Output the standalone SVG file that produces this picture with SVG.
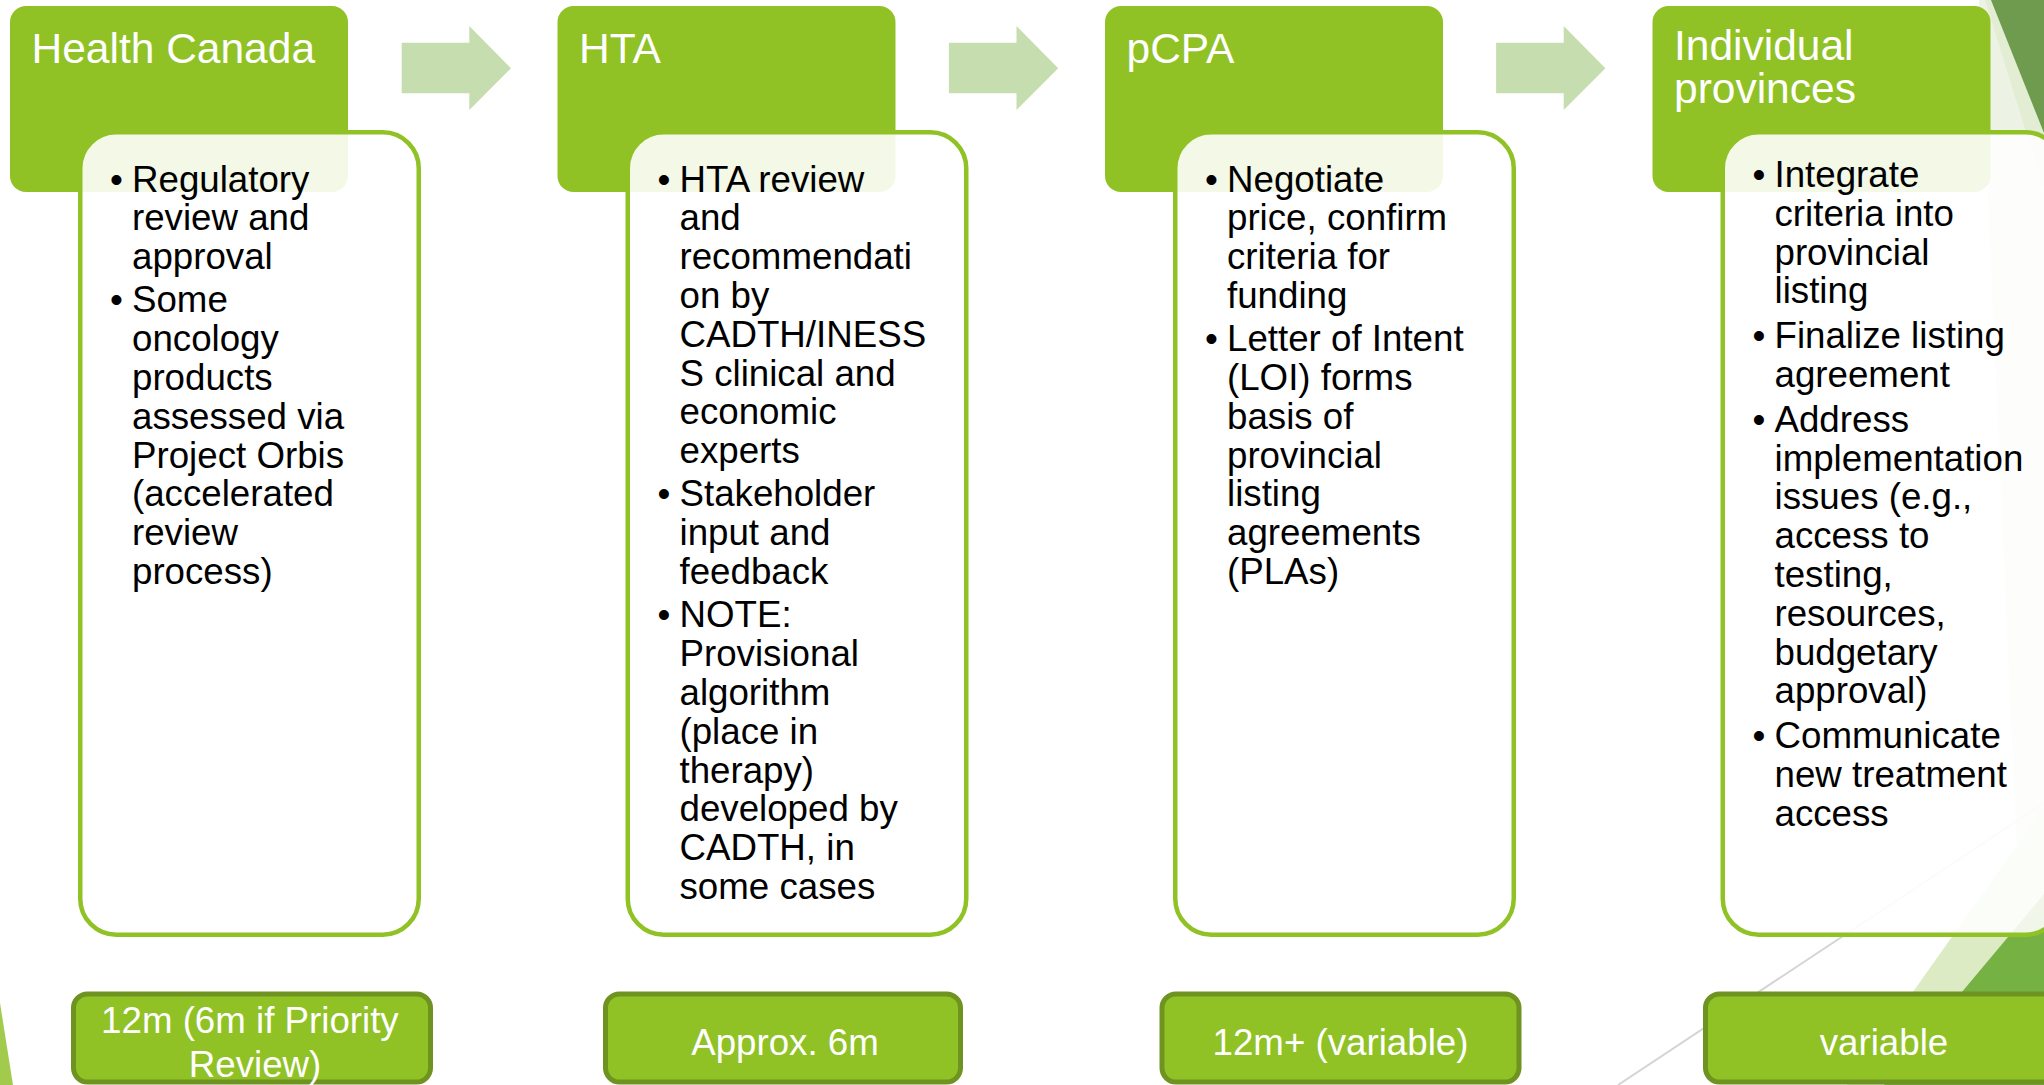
<svg xmlns="http://www.w3.org/2000/svg" width="2044" height="1085" viewBox="0 0 2044 1085">
  <style>
    .hdr { fill: #90c226; }
    .hdr-t { font-family: "Liberation Sans", Arial, sans-serif; font-size: 42.5px; fill: #ffffff; }
    .panel { fill: #ffffff; fill-opacity: 0.89; stroke: #90c226; stroke-width: 4.5; }
    .txt { font-family: "Liberation Sans", Arial, sans-serif; font-size: 36.7px; fill: #000000; }
    .arrow { fill: #c6deaf; }
    .dur { fill: #90c226; stroke: #6e9321; stroke-width: 5; }
    .dur-t { font-family: "Liberation Sans", Arial, sans-serif; font-size: 36.7px; fill: #ffffff; text-anchor: middle; }
  </style>

  <rect width="2044" height="1085" fill="#ffffff"/>

  <!-- theme facets along the edges -->
  <g id="decor">
    <polygon points="1979,0 2044,0 2044,1085 2027,1085" fill="#edf3e4"/>
    <polygon points="1985,0 2044,0 2044,190" fill="#e2edd3"/>
    <polygon points="1991,0 2044,0 2044,133" fill="#6f9b4f"/>
    <polygon points="1847,1085 2044,807 2044,1085" fill="#dcebc4"/>
    <polygon points="1884,1085 2044,894 2044,1085" fill="#76b144"/>
    <line x1="1618" y1="1085" x2="2044" y2="803" stroke="#d4d4d4" stroke-width="2"/>
    <polygon points="0,1003 13,1085 0,1085" fill="#a2cb4e"/>
  </g>

  <!-- stage 1 -->
  <g id="stage-health-canada">
    <rect class="hdr" x="10" y="6" width="338" height="186" rx="16"/>
    <text class="hdr-t" x="31.5" y="63">Health Canada</text>
    <rect class="panel" x="80.25" y="132.25" width="338.5" height="802.5" rx="36"/>
    <text class="txt" x="110" y="191.5">•</text>
    <text class="txt" x="110" y="312.4">•</text>
    <text class="txt">
      <tspan x="132" y="191.5">Regulatory</tspan>
      <tspan x="132" y="230.3">review and</tspan>
      <tspan x="132" y="269.1">approval</tspan>
      <tspan x="132" y="312.4">Some</tspan>
      <tspan x="132" y="351.2">oncology</tspan>
      <tspan x="132" y="390">products</tspan>
      <tspan x="132" y="428.8">assessed via</tspan>
      <tspan x="132" y="467.6">Project Orbis</tspan>
      <tspan x="132" y="506.4">(accelerated</tspan>
      <tspan x="132" y="545.2">review</tspan>
      <tspan x="132" y="584">process)</tspan>
    </text>
  </g>

  <!-- stage 2 -->
  <g id="stage-hta">
    <rect class="hdr" x="557.5" y="6" width="338" height="186" rx="16"/>
    <text class="hdr-t" x="579" y="63">HTA</text>
    <rect class="panel" x="627.75" y="132.25" width="338.5" height="802.5" rx="36"/>
    <text class="txt" x="657.5" y="191.5">•</text>
    <text class="txt" x="657.5" y="506.4">•</text>
    <text class="txt" x="657.5" y="627.3">•</text>
    <text class="txt">
      <tspan x="679.5" y="191.5">HTA review</tspan>
      <tspan x="679.5" y="230.3">and</tspan>
      <tspan x="679.5" y="269.1">recommendati</tspan>
      <tspan x="679.5" y="307.9">on by</tspan>
      <tspan x="679.5" y="346.7">CADTH/INESS</tspan>
      <tspan x="679.5" y="385.5">S clinical and</tspan>
      <tspan x="679.5" y="424.3">economic</tspan>
      <tspan x="679.5" y="463.1">experts</tspan>
      <tspan x="679.5" y="506.4">Stakeholder</tspan>
      <tspan x="679.5" y="545.2">input and</tspan>
      <tspan x="679.5" y="584">feedback</tspan>
      <tspan x="679.5" y="627.3">NOTE:</tspan>
      <tspan x="679.5" y="666.1">Provisional</tspan>
      <tspan x="679.5" y="704.9">algorithm</tspan>
      <tspan x="679.5" y="743.7">(place in</tspan>
      <tspan x="679.5" y="782.5">therapy)</tspan>
      <tspan x="679.5" y="821.3">developed by</tspan>
      <tspan x="679.5" y="860.1">CADTH, in</tspan>
      <tspan x="679.5" y="898.9">some cases</tspan>
    </text>
  </g>

  <!-- stage 3 -->
  <g id="stage-pcpa">
    <rect class="hdr" x="1105" y="6" width="338" height="186" rx="16"/>
    <text class="hdr-t" x="1126.5" y="63">pCPA</text>
    <rect class="panel" x="1175.25" y="132.25" width="338.5" height="802.5" rx="36"/>
    <text class="txt" x="1205" y="191.5">•</text>
    <text class="txt" x="1205" y="351.2">•</text>
    <text class="txt">
      <tspan x="1227" y="191.5">Negotiate</tspan>
      <tspan x="1227" y="230.3">price, confirm</tspan>
      <tspan x="1227" y="269.1">criteria for</tspan>
      <tspan x="1227" y="307.9">funding</tspan>
      <tspan x="1227" y="351.2">Letter of Intent</tspan>
      <tspan x="1227" y="390">(LOI) forms</tspan>
      <tspan x="1227" y="428.8">basis of</tspan>
      <tspan x="1227" y="467.6">provincial</tspan>
      <tspan x="1227" y="506.4">listing</tspan>
      <tspan x="1227" y="545.2">agreements</tspan>
      <tspan x="1227" y="584">(PLAs)</tspan>
    </text>
  </g>

  <!-- stage 4 -->
  <g id="stage-provinces">
    <rect class="hdr" x="1652.5" y="6" width="338" height="186" rx="16"/>
    <text class="hdr-t" x="1674" y="60">Individual</text>
    <text class="hdr-t" x="1674" y="103">provinces</text>
    <rect class="panel" x="1722.75" y="132.25" width="338.5" height="802.5" rx="36"/>
    <text class="txt" x="1752.5" y="187">•</text>
    <text class="txt" x="1752.5" y="348.2">•</text>
    <text class="txt" x="1752.5" y="431.8">•</text>
    <text class="txt" x="1752.5" y="748.2">•</text>
    <text class="txt">
      <tspan x="1774.5" y="187">Integrate</tspan>
      <tspan x="1774.5" y="225.8">criteria into</tspan>
      <tspan x="1774.5" y="264.6">provincial</tspan>
      <tspan x="1774.5" y="303.4">listing</tspan>
      <tspan x="1774.5" y="348.2">Finalize listing</tspan>
      <tspan x="1774.5" y="387">agreement</tspan>
      <tspan x="1774.5" y="431.8">Address</tspan>
      <tspan x="1774.5" y="470.6">implementation</tspan>
      <tspan x="1774.5" y="509.4">issues (e.g.,</tspan>
      <tspan x="1774.5" y="548.2">access to</tspan>
      <tspan x="1774.5" y="587">testing,</tspan>
      <tspan x="1774.5" y="625.8">resources,</tspan>
      <tspan x="1774.5" y="664.6">budgetary</tspan>
      <tspan x="1774.5" y="703.4">approval)</tspan>
      <tspan x="1774.5" y="748.2">Communicate</tspan>
      <tspan x="1774.5" y="787">new treatment</tspan>
      <tspan x="1774.5" y="825.8">access</tspan>
    </text>
  </g>

  <!-- flow arrows between stages -->
  <g id="connectors">
    <path class="arrow" d="M401.7,42.7 H469.3 V26 L511,68.3 L469.3,110 V93.3 H401.7 Z"/>
    <path class="arrow" d="M948.9,42.7 H1016.5 V26 L1058.2,68.3 L1016.5,110 V93.3 H948.9 Z"/>
    <path class="arrow" d="M1496.1,42.7 H1563.7 V26 L1605.4,68.3 L1563.7,110 V93.3 H1496.1 Z"/>
  </g>

  <!-- durations -->
  <g id="duration-health-canada">
    <rect class="dur" x="73.5" y="994" width="357" height="88" rx="14"/>
    <text class="dur-t">
      <tspan x="255" y="1033">12m (6m if Priority</tspan>
      <tspan x="255" y="1077">Review)</tspan>
    </text>
  </g>
  <g id="duration-hta">
    <rect class="dur" x="605.5" y="994" width="355" height="88" rx="14"/>
    <text class="dur-t" x="785" y="1055">Approx. 6m</text>
  </g>
  <g id="duration-pcpa">
    <rect class="dur" x="1162" y="994" width="357" height="88" rx="14"/>
    <text class="dur-t" x="1340.5" y="1055">12m+ (variable)</text>
  </g>
  <g id="duration-provinces">
    <rect class="dur" x="1705.5" y="994" width="357" height="88" rx="14"/>
    <text class="dur-t" x="1884" y="1055">variable</text>
  </g>
</svg>
